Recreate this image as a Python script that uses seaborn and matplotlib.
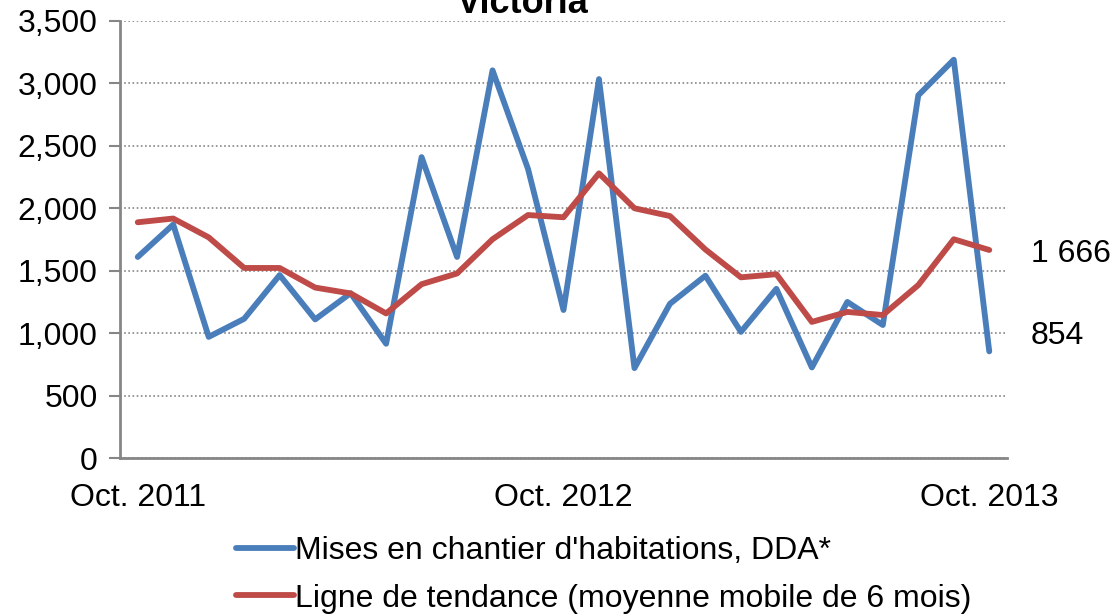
import numpy as np
import matplotlib
matplotlib.use("Agg")
import matplotlib.pyplot as plt
import matplotlib.ticker as mticker
import pandas as pd
import seaborn as sns

sns.set_style("white")
plt.rcParams['font.family'] = ['Liberation Sans', 'DejaVu Sans']
plt.rcParams['text.color'] = 'black'
plt.rcParams['xtick.color'] = 'black'
plt.rcParams['ytick.color'] = 'black'

# monthly data, Oct. 2011 -> Oct. 2013
months = pd.period_range("2011-10", "2013-10", freq="M").strftime("%b %Y").tolist()
starts = [1610, 1870, 970, 1115, 1465, 1110, 1320, 915, 2410, 1610,
          3105, 2315, 1185, 3035, 720, 1235, 1460, 1010, 1355, 725,
          1250, 1065, 2905, 3190, 854]
trend = [1888, 1918, 1767, 1522, 1522, 1365, 1318, 1158, 1392, 1478,
         1752, 1946, 1928, 2280, 2000, 1938, 1670, 1447, 1472, 1090,
         1170, 1145, 1385, 1752, 1666]
series_names = ["Mises en chantier d'habitations, DDA*",
                "Ligne de tendance (moyenne mobile de 6 mois)"]
xtick_labels = ["Oct. 2011", "Oct. 2012", "Oct. 2013"]
colors = ["#4A7EBB", "#BE4B48"]

df = pd.DataFrame({
    "idx": list(range(len(months))) * 2,
    "value": starts + trend,
    "serie": [series_names[0]] * len(starts) + [series_names[1]] * len(trend),
})

fig = plt.figure(figsize=(11.19, 6.14), dpi=100)
ax = fig.add_axes([120/1119, 1-458/614, 887/1119, 437/614])

sns.lineplot(data=df, x="idx", y="value", hue="serie", palette=colors,
             linewidth=4.2, ax=ax, legend=True)

grey = "#868686"
ax.set_xlim(-0.5, len(months) - 0.5)
ax.set_ylim(0, 3500)
ax.set_yticks(np.arange(0, 3501, 500))
ax.yaxis.set_major_formatter(mticker.StrMethodFormatter("{x:,.0f}"))
ax.grid(axis="y", linestyle=(0, (1, 1.5)), color=grey, linewidth=1.2)
ax.set_axisbelow(True)

# labels at point centres, tick marks between categories
ax.set_xticks([0, 12, 24])
ax.set_xticklabels(xtick_labels)
ax.set_xticks([-0.5, 11.5, 23.5], minor=True)
ax.tick_params(axis="x", which="major", length=0, pad=18, labelsize=23)
ax.tick_params(axis="x", which="minor", length=8, width=1.5, color=grey, direction="out")
ax.tick_params(axis="y", length=8, width=1.5, color=grey, direction="out", pad=8, labelsize=23, left=True)
ax.set_xlabel("")
ax.set_ylabel("")

for side in ["top", "right"]:
    ax.spines[side].set_visible(False)
for side in ["left", "bottom"]:
    ax.spines[side].set_color(grey)
    ax.spines[side].set_linewidth(2)

# end-of-series labels
ax.annotate("1 666", xy=(24, trend[-1]), xytext=(30, -3), textcoords="offset points",
            fontsize=23, va="center", ha="left", annotation_clip=False)
ax.annotate("854", xy=(24, starts[-1]), xytext=(30, 11), textcoords="offset points",
            fontsize=23, va="center", ha="left", annotation_clip=False)

fig.text(523/1119, 1-13/614, "Victoria", fontsize=26, fontweight="bold",
         ha="center", va="baseline")

ax.get_legend().remove()
handles, labels = ax.get_legend_handles_labels()
fig.legend(handles, labels, loc="upper left", bbox_to_anchor=(236/1119, 1-536/614),
           frameon=False, fontsize=23, handlelength=1.8, handletextpad=0.05,
           labelspacing=0.55, borderpad=0, borderaxespad=0)

fig.savefig("out.png", dpi=100)
